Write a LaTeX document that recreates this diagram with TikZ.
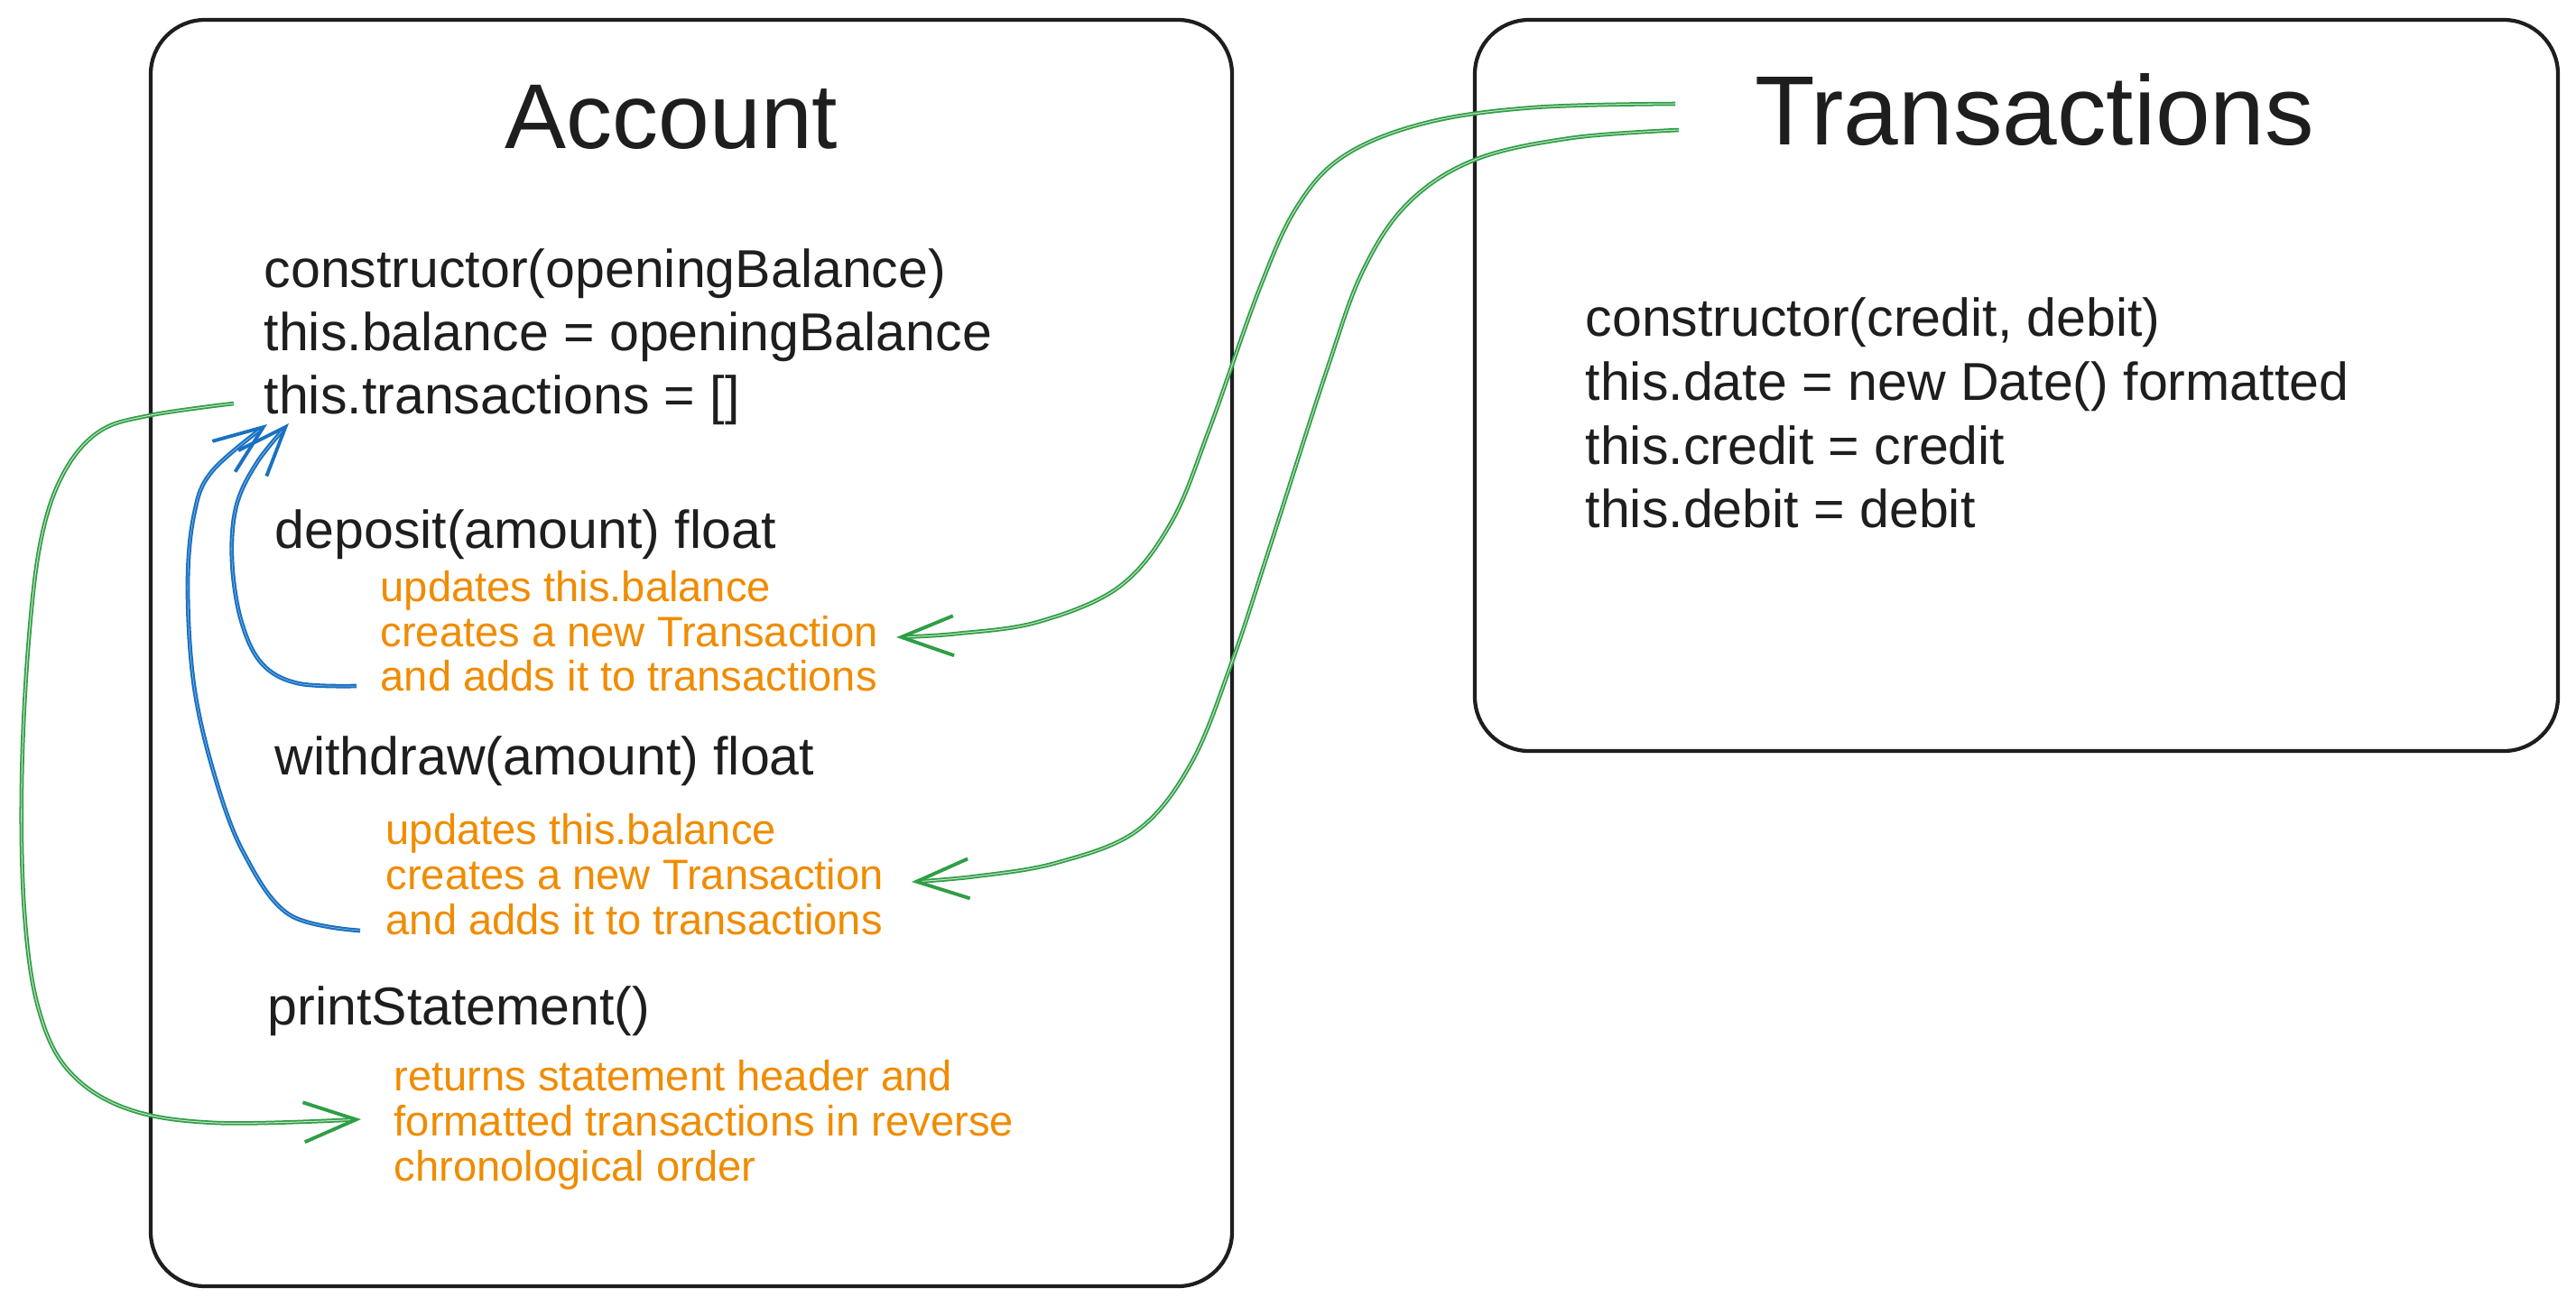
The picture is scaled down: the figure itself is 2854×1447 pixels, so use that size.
\documentclass[tikz,border=0pt]{standalone}
\usepackage{fontspec}
\setmainfont{Liberation Sans}
\usetikzlibrary{arrows.meta}
\definecolor{cblack}{HTML}{1E1E1E}
\definecolor{cgreen}{HTML}{2F9E44}
\definecolor{cblue}{HTML}{1971C2}
\definecolor{corange}{HTML}{F08C00}
\tikzset{
  box/.style={draw=cblack, line width=1.2pt, rounded corners=0.6cm},
  titletext/.style={anchor=base, inner sep=0pt, text=cblack},
  code/.style={anchor=base west, inner sep=0pt, text=cblack, font=\fontsize{16.8}{20}\selectfont},
  note/.style={anchor=base west, inner sep=0pt, text=corange, font=\fontsize{13.4}{14.2}\selectfont},
  gline/.style={draw=cgreen, line width=0.5pt, double=cgreen!30, double distance=0.3pt,
    -{Straight Barb[length=16.5pt,width=12.5pt,line width=1.1pt]}},
  bline/.style={draw=cblue, line width=0.6pt, double=cblue!40, double distance=0.15pt,
    -{Straight Barb[length=15.5pt,width=12pt,line width=1.1pt]}}
}
\begin{document}
\begin{tikzpicture}[x=0.01cm, y=-0.01cm]
\useasboundingbox (0,0) rectangle (2854,1447);
\fill[white] (0,0) rectangle (2854,1447);

% boxes
\coordinate (accNW) at (167,22);
\coordinate (accSE) at (1365,1425);
\coordinate (trNW) at (1634,22);
\coordinate (trSE) at (2834,832);
\draw[box] (accNW) rectangle (accSE);
\draw[box] (trNW) rectangle (trSE);

% Account
\node[titletext, font=\fontsize{29}{34}\selectfont] (acctitle) at (744,164) {Account};
\node[code] (a1) at (292,318) {constructor(openingBalance)};
\node[code] (a2) at (292,388) {this.balance = openingBalance};
\node[code] (a3) at (292,458) {this.transactions = []};
\node[code] (dep) at (304,607) {deposit(amount) float};
\node[note] (d1) at (421,666) {updates this.balance};
\node[note] (d2) at (421,716) {creates a new Transaction};
\node[note] (d3) at (421,765) {and adds it to transactions};
\node[code] (wd) at (304,858) {withdraw(amount) float};
\node[note] (w1) at (427,935) {updates this.balance};
\node[note] (w2) at (427,985) {creates a new Transaction};
\node[note] (w3) at (427,1035) {and adds it to transactions};
\node[code] (ps) at (296,1135) {printStatement()};
\node[note] (p1) at (436,1208) {returns statement header and};
\node[note] (p2) at (436,1258) {formatted transactions in reverse};
\node[note] (p3) at (436,1308) {chronological order};

% Transactions
\node[titletext, font=\fontsize{31}{36}\selectfont] (trtitle) at (2254,160) {Transactions};
\node[code] (t1) at (1756,372) {constructor(credit, debit)};
\node[code] (t2) at (1756,443) {this.date = new Date() formatted};
\node[code] (t3) at (1756,514) {this.credit = credit};
\node[code] (t4) at (1756,584) {this.debit = debit};

% connector end points
\coordinate (g1s) at (1856,115);
\coordinate (g1e) at (993,706);
\coordinate (g2s) at (1860,144);
\coordinate (g2e) at (1010,977);
\coordinate (g3s) at (259,447);
\coordinate (g3e) at (400,1240);
\coordinate (b1s) at (395,760);
\coordinate (b1e) at (320,469);
\coordinate (b2s) at (399,1031);
\coordinate (b2e) at (296,470);

% green: Transactions -> deposit
\draw[gline] plot[smooth, tension=0.6] coordinates {(g1s) (1700,119) (1580,136)
  (1490,172) (1437,229) (1395,321) (1340,475) (1298,578) (1240,650) (1150,689)
  (1060,702) (g1e)};
% green: Transactions -> withdraw
\draw[gline] plot[smooth, tension=0.6] coordinates {(g2s) (1740,153) (1634,177)
  (1560,225) (1510,300) (1470,410) (1404,615) (1365,733) (1320,845) (1260,920)
  (1170,956) (1080,971) (g2e)};
% green: transactions -> printStatement
\draw[gline] plot[smooth, tension=0.6] coordinates {(g3s) (167,460) (110,478)
  (70,525) (45,600) (31,720) (24,870) (27,1010) (42,1115) (75,1185) (140,1228)
  (240,1244) (g3e)};
% blue: deposit -> transactions
\draw[bline] plot[smooth, tension=0.6] coordinates {(b1s) (330,757) (290,735)
  (267,687) (257,620) (262,560) (285,512) (b1e)};
% blue: withdraw -> transactions
\draw[bline] plot[smooth, tension=0.6] coordinates {(b2s) (320,1013) (270,945)
  (238,860) (215,760) (208,650) (215,570) (235,522) (b2e)};
\end{tikzpicture}
\end{document}
